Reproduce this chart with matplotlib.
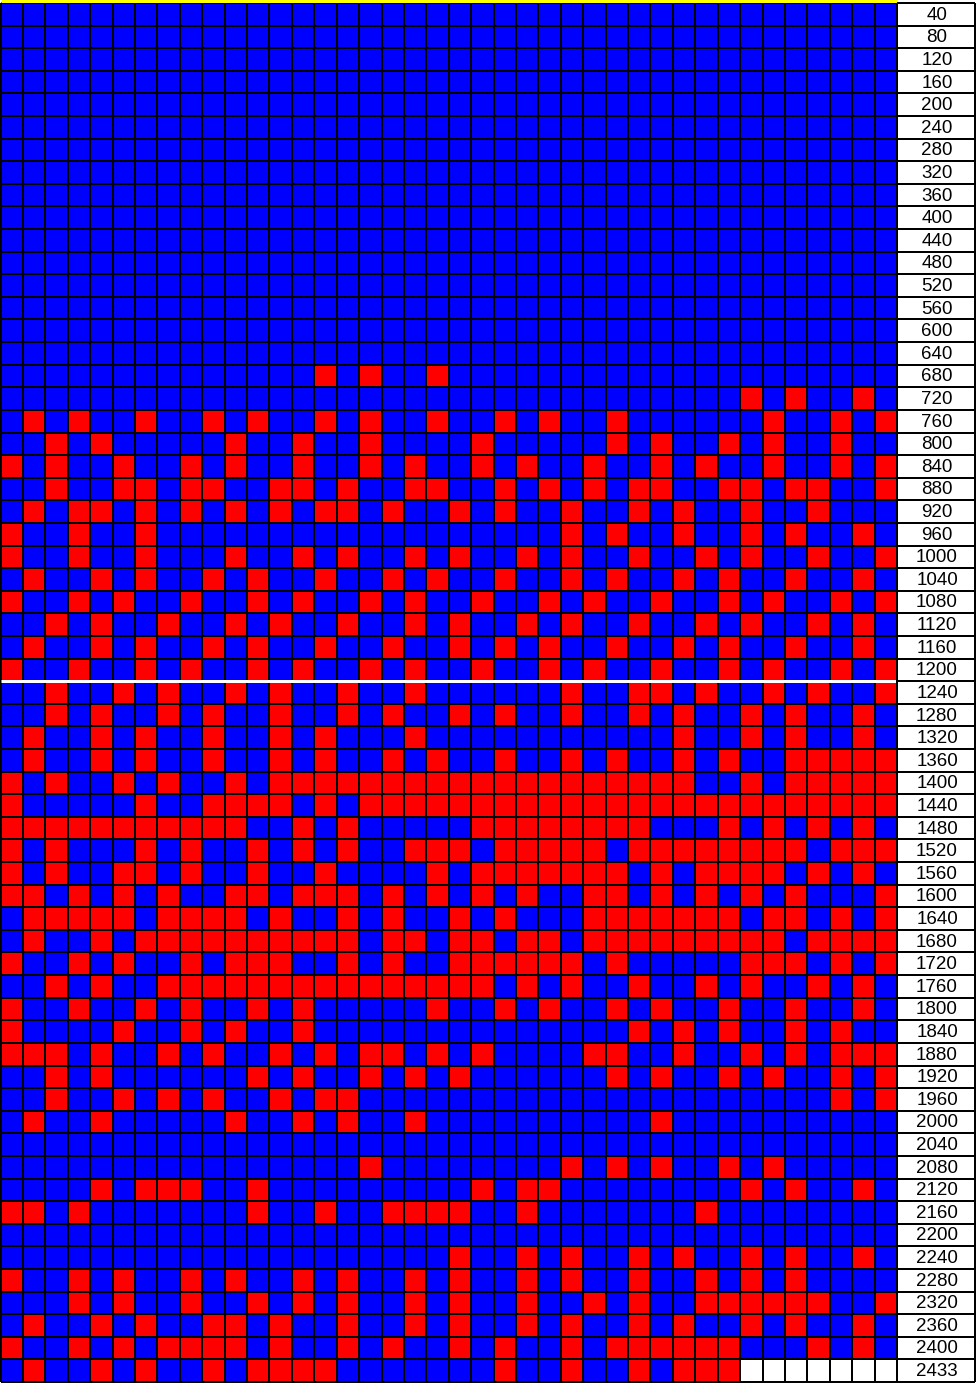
import matplotlib
matplotlib.use('Agg')
import matplotlib.pyplot as plt
from matplotlib.colors import ListedColormap
import numpy as np

plt.rcParams['font.family'] = ['Liberation Sans', 'DejaVu Sans']

# rotulos das linhas, de 40 em 40
row_labels = [str(v) for v in range(40, 2401, 40)] + ['2433']
n_cols = 40

# colunas vermelhas de cada linha (as primeiras 16 linhas sao todas azuis)
red_columns = [[] for _ in range(16)] + [
    [14, 16, 19],  # 680
    [33, 35, 38],  # 720
    [1, 3, 6, 9, 11, 14, 16, 19, 22, 24, 27, 34, 37, 39],  # 760
    [2, 4, 10, 13, 16, 21, 27, 29, 32, 34, 37],  # 800
    [0, 2, 5, 8, 10, 13, 16, 18, 21, 23, 26, 29, 31, 34, 37, 39],  # 840
    [2, 5, 6, 8, 9, 12, 13, 15, 18, 19, 22, 24, 26, 28, 29, 32, 33, 35, 36, 39],  # 880
    [1, 3, 4, 6, 8, 10, 12, 14, 15, 17, 20, 22, 25, 28, 30, 33, 36],  # 920
    [0, 3, 6, 25, 27, 30, 33, 35, 38],  # 960
    [0, 3, 6, 10, 13, 15, 18, 20, 23, 25, 28, 31, 33, 36, 39],  # 1000
    [1, 4, 6, 9, 11, 14, 17, 19, 22, 25, 27, 30, 32, 35, 38],  # 1040
    [0, 3, 5, 8, 11, 13, 16, 18, 21, 24, 26, 29, 32, 34, 37, 39],  # 1080
    [2, 4, 7, 10, 12, 15, 18, 20, 23, 25, 28, 31, 33, 36, 38],  # 1120
    [1, 4, 6, 9, 11, 14, 17, 20, 22, 24, 27, 30, 32, 35, 38],  # 1160
    [0, 3, 6, 8, 11, 13, 16, 18, 21, 24, 26, 29, 32, 34, 37, 39],  # 1200
    [2, 5, 7, 10, 12, 15, 18, 25, 28, 29, 31, 34, 36, 39],  # 1240
    [2, 4, 7, 9, 12, 15, 17, 20, 22, 25, 28, 30, 33, 35, 38],  # 1280
    [1, 4, 6, 9, 12, 14, 18, 30, 33, 35, 38],  # 1320
    [1, 4, 6, 9, 12, 14, 17, 19, 22, 25, 27, 30, 32, 35, 36, 37, 38, 39],  # 1360
    [0, 2, 5, 7, 10] + list(range(12, 31)) + [33, 35, 36, 37, 38, 39],  # 1400
    [0, 6, 9, 10, 11, 12, 14] + list(range(16, 40)),  # 1440
    list(range(0, 11)) + [13, 15] + list(range(21, 29)) + [32, 34, 36, 38],  # 1480
    [0, 2, 6, 8, 11, 13, 15, 18, 19, 20, 22, 23, 24, 25, 26] + list(range(28, 36)) + [37, 38, 39],  # 1520
    [0, 2, 5, 6, 8, 11, 14, 19] + list(range(21, 28)) + [29, 31, 32, 33, 34, 36, 38],  # 1560
    [0, 1, 3, 5, 7, 10, 11, 13, 14, 15, 17, 19, 21, 23, 26, 27, 29, 31, 33, 35, 39],  # 1600
    [1, 2, 3, 4, 5, 7, 8, 9, 10, 12, 15, 17, 20, 22] + list(range(26, 33)) + [34, 35, 37, 39],  # 1640
    [1, 4] + list(range(6, 16)) + [17, 18, 20, 21, 23, 24] + list(range(26, 35)) + [36, 37, 38, 39],  # 1680
    [0, 3, 5, 8, 10, 11, 12, 15, 17, 20, 21, 22, 23, 24, 25, 27, 33, 34, 35, 37, 39],  # 1720
    [2, 4] + list(range(7, 22)) + [23, 25, 28, 31, 33, 36, 38],  # 1760
    [0, 3, 6, 8, 11, 13, 19, 22, 24, 27, 29, 32, 35, 38],  # 1800
    [0, 5, 8, 10, 13, 28, 30, 32, 35, 37],  # 1840
    [0, 1, 2, 4, 7, 9, 12, 14, 16, 17, 19, 21, 26, 27, 30, 33, 35, 37, 38, 39],  # 1880
    [2, 4, 11, 13, 16, 18, 20, 27, 29, 32, 34, 37, 39],  # 1920
    [2, 5, 7, 9, 12, 14, 15, 37, 39],  # 1960
    [1, 4, 10, 13, 15, 18, 29],  # 2000
    [],  # 2040
    [16, 25, 27, 29, 32, 34],  # 2080
    [4, 6, 7, 8, 11, 21, 23, 24, 33, 35, 38],  # 2120
    [0, 1, 3, 11, 14, 17, 18, 19, 20, 23, 31],  # 2160
    [],  # 2200
    [20, 23, 25, 28, 30, 33, 35, 38],  # 2240
    [0, 3, 5, 8, 10, 13, 15, 18, 20, 23, 25, 28, 31, 33, 35],  # 2280
    [3, 5, 8, 11, 13, 15, 18, 20, 23, 26, 28, 31, 32, 33, 34, 35, 36, 39],  # 2320
    [1, 4, 6, 9, 10, 12, 15, 18, 20, 23, 25, 28, 30, 33, 35, 38],  # 2360
    [0, 3, 5, 7, 8, 9, 10, 12, 15, 17, 20, 22, 25, 27, 28, 29, 30, 31, 32, 36, 38],  # 2400
    [1, 4, 6, 9, 11, 12, 13, 14, 22, 25, 28, 30, 31, 32],  # 2433
]
# celulas vazias no fim da ultima linha
blank_last_row = [33, 34, 35, 36, 37, 38, 39]

W, H = 977, 1391
n_rows = len(row_labels)

# 0 branco, 1 azul, 2 vermelho
grid = np.ones((n_rows, n_cols))
for i, cols in enumerate(red_columns):
    grid[i, cols] = 2
grid[-1, blank_last_row] = 0
cmap = ListedColormap(['white', '#0000ff', '#ff0000'])

fig = plt.figure(figsize=(W / 100, H / 100), dpi=100)
top, bottom = 3.0, 1382.0
line_w = 2 * 72 / 100  # 2 pixels

ax = fig.add_axes([0.5 / W, 1 - bottom / H, 896.5 / W, (bottom - top) / H])
ax.pcolormesh(grid, cmap=cmap, vmin=0, vmax=2)
ax.set_xlim(0, n_cols)
ax.set_ylim(n_rows, 0)
ax.axis('off')
ax.vlines(np.arange(n_cols + 1), 0, n_rows, color='black', lw=line_w, clip_on=False)
ax.hlines(np.arange(n_rows + 1), 0, n_cols, color='black', lw=line_w, clip_on=False)

# linha amarela no topo e linha branca entre 1200 e 1240
ax.hlines(-0.09, 0, n_cols, color='#ffff00', lw=3 * 72 / 100, clip_on=False, zorder=5)
ax.hlines(30, 0, n_cols, color='white', lw=3 * 72 / 100, clip_on=False, zorder=5)

lab = fig.add_axes([897 / W, 1 - bottom / H, 78 / W, (bottom - top) / H])
lab.set_xlim(0, 1)
lab.set_ylim(n_rows, 0)
lab.axis('off')
lab.vlines([0, 1], 0, n_rows, color='black', lw=line_w, clip_on=False)
lab.hlines(np.arange(n_rows + 1), 0, 1, color='black', lw=line_w, clip_on=False)
for i, txt in enumerate(row_labels):
    lab.text(0.513, i + 0.54, txt, ha='center', va='center', fontsize=13.5, color='black')

fig.savefig('out.png', dpi=100, facecolor='white')
